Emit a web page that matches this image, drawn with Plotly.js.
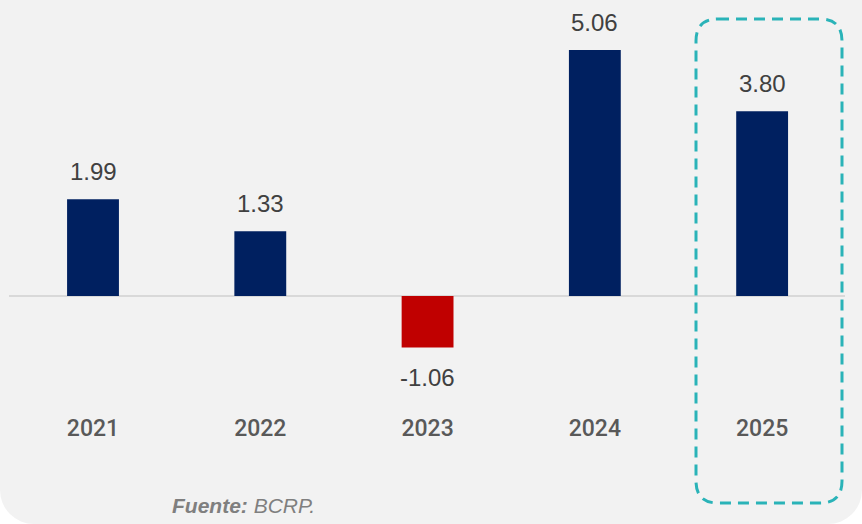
<!DOCTYPE html>
<html><head><meta charset="utf-8">
<script src="https://cdn.plot.ly/plotly-3.0.1.min.js"></script>
<style>
html,body{margin:0;padding:0;background:#ffffff;}
#card{position:absolute;left:0;top:0;width:862px;height:524px;background:#f2f2f2;border-radius:0 0 34px 34px;overflow:hidden;}
#chart{width:862px;height:524px;}
</style></head>
<body><div id="card"><div id="chart"></div></div>
<script>
const years = ['2021','2022','2023','2024','2025'];
const values = [1.99, 1.33, -1.06, 5.06, 3.80];
const colors = values.map(v => v < 0 ? '#c00000' : '#002060');
const source = '<b>Fuente:</b> BCRP.';

const W = 862, H = 524, mB = 112;
const ph = H - mB;
const px = x => x / W;
const py = y => (ph - y) / ph;

function roundRect(x0, y0, x1, y1, r) {
  const X = v => px(v), Y = v => py(v);
  return `M${X(x0+r)},${Y(y0)} L${X(x1-r)},${Y(y0)} Q${X(x1)},${Y(y0)} ${X(x1)},${Y(y0+r)} ` +
    `L${X(x1)},${Y(y1-r)} Q${X(x1)},${Y(y1)} ${X(x1-r)},${Y(y1)} L${X(x0+r)},${Y(y1)} ` +
    `Q${X(x0)},${Y(y1)} ${X(x0)},${Y(y1-r)} L${X(x0)},${Y(y0+r)} Q${X(x0)},${Y(y0)} ${X(x0+r)},${Y(y0)} Z`;
}

const trace = {
  type: 'bar', x: years, y: values,
  marker: {color: colors, line: {width: 0}},
  width: 0.31, hoverinfo: 'skip'
};

const labelAnn = years.map((yr, i) => ({
  x: i, y: values[i], xref: 'x', yref: 'y',
  text: values[i].toFixed(2), showarrow: false,
  yanchor: values[i] >= 0 ? 'bottom' : 'top',
  yshift: values[i] >= 0 ? 12 : -14,
  font: {family: 'Liberation Sans, Arial, sans-serif', size: 24, color: '#404040'}
}));

const layout = {
  width: W, height: H,
  margin: {l: 0, r: 0, t: 0, b: mB, pad: 0},
  paper_bgcolor: 'rgba(0,0,0,0)', plot_bgcolor: 'rgba(0,0,0,0)',
  showlegend: false,
  xaxis: {
    type: 'category', range: [-0.556, 4.597],
    showgrid: false, zeroline: false, showline: false, ticks: '',
    tickfont: {family: 'Roboto, sans-serif', size: 23, color: '#595959', weight: 500},
    ticklabelstandoff: 0
  },
  yaxis: {
    range: [-(ph - 296) / 48.6, 296 / 48.6],
    showticklabels: false, showline: false, ticks: '', showgrid: false, zeroline: false
  },
  shapes: [
    {type: 'line', xref: 'paper', yref: 'y', x0: px(9), x1: px(845), y0: 0, y1: 0,
     line: {color: '#d9d9d9', width: 2}, layer: 'below'},
    {type: 'path', xref: 'paper', yref: 'paper', path: roundRect(696, 19, 842, 503, 22),
     line: {color: '#2ab3b8', width: 3, dash: '11px,7px'}, fillcolor: 'rgba(0,0,0,0)'}
  ],
  annotations: labelAnn.concat([{
    xref: 'paper', yref: 'paper', x: px(170), y: py(505), xanchor: 'left', yanchor: 'middle',
    text: source, showarrow: false,
    font: {family: 'Liberation Sans, Arial, sans-serif', size: 21, color: '#7f7f7f', style: 'italic'}
  }])
};

Plotly.newPlot('chart', [trace], layout, {displayModeBar: false, staticPlot: true});
</script></body></html>
